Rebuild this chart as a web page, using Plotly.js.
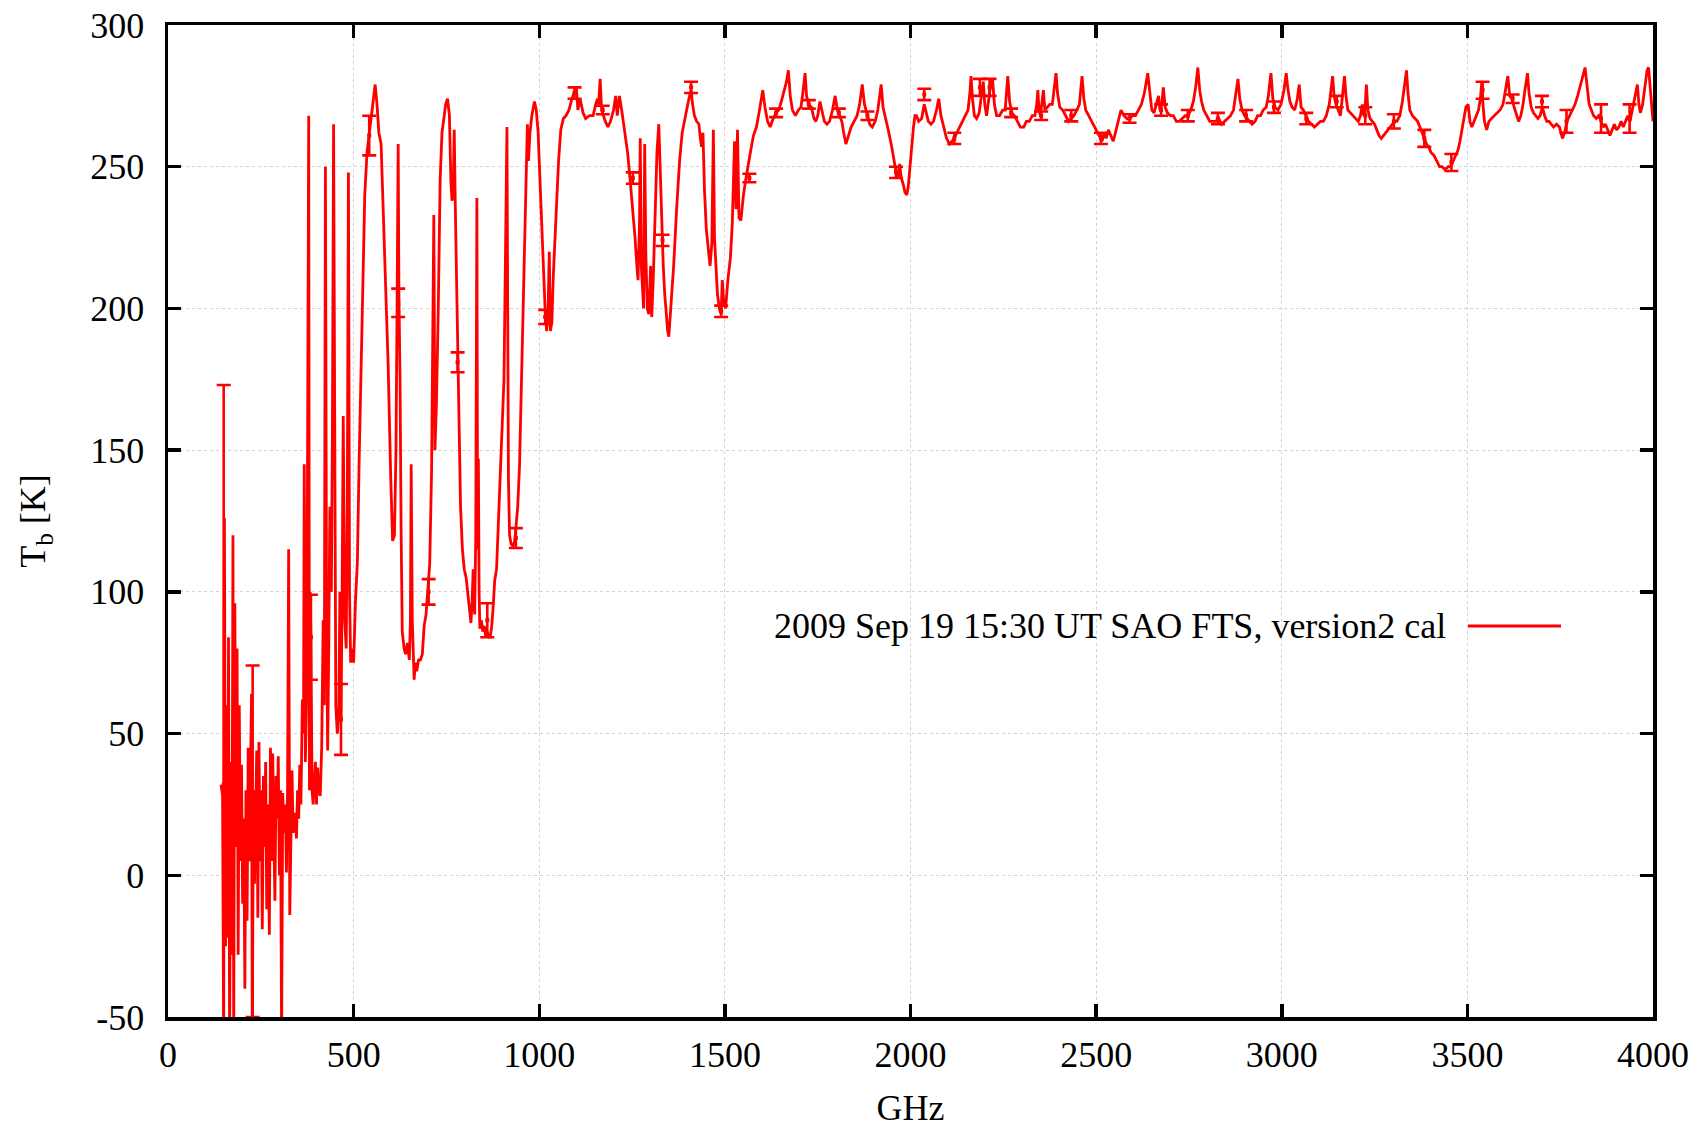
<!DOCTYPE html>
<html>
<head>
<meta charset="utf-8">
<script src="https://cdn.plot.ly/plotly-3.0.1.min.js"></script>
<style>html,body{margin:0;padding:0;background:#fff;}#chart{width:1703px;height:1128px;}</style>
</head>
<body>
<div id="chart"></div>
<script>
// ---- Data (GHz, K) ----
const freqGHz = [
143,147,150,152,155,158,161,163,166,169,172,175,177,180,183,186,189,192,195,198,201,204,207,210,213,216,219,222,225,227,230,233,236,239,242,245,248,251,254,257,260,263,266,269,273,276,279,282,285,288,291,294,297,300,303,306,309,312,316,319,322,325,328,331,334,337,340,343,346,349,352,355,358,362,365,367,370,373,376,379,381,383,385,388,391,394,397,400,403,406,410,414,418,421,424,427,430,433,436,440,443,446,449,452,456,460,463,466,469,472,476,480,483,486,489,492,496,500,505,510,515,522,530,536,542,547,552,558,563,568,574,580,587,593,600,605,610,614,617,620,622,625,628,631,636,640,645,650,653,655,658,661,663,666,670,675,680,685,690,695,700,705,710,713,716,719,723,728,733,738,743,748,753,758,762,765,768,771,774,777,780,784,788,793,798,803,808,812,816,819,822,826,829,832,834,836,838,840,844,848,852,856,860,864,868,872,876,880,885,890,895,900,905,910,913,915,917,920,924,929,934,938,942,947,952,958,964,968,971,975,980,987,992,997,1002,1008,1012,1016,1020,1024,1027,1030,1034,1038,1045,1052,1058,1065,1072,1080,1088,1095,1100,1104,1110,1118,1125,1135,1145,1152,1157,1160,1164,1168,1172,1178,1185,1192,1200,1206,1210,1216,1222,1230,1238,1245,1252,1258,1263,1266,1270,1272,1275,1278,1281,1284,1287,1291,1295,1300,1303,1307,1312,1317,1322,1326,1330,1334,1338,1342,1346,1349,1352,1356,1362,1370,1378,1385,1393,1400,1405,1409,1413,1418,1424,1430,1434,1437,1441,1445,1450,1455,1460,1465,1469,1472,1476,1480,1485,1490,1493,1497,1502,1508,1515,1520,1526,1530,1534,1538,1543,1550,1557,1563,1570,1577,1585,1592,1597,1602,1608,1615,1622,1630,1638,1645,1652,1660,1666,1671,1676,1682,1690,1698,1705,1710,1716,1720,1726,1733,1740,1745,1750,1756,1762,1768,1775,1782,1790,1797,1803,1810,1815,1820,1826,1833,1840,1848,1856,1863,1870,1876,1884,1890,1897,1905,1912,1918,1921,1926,1932,1940,1948,1954,1960,1966,1971,1975,1980,1985,1990,1994,1998,2003,2008,2012,2016,2022,2030,2037,2042,2048,2055,2062,2070,2076,2082,2090,2097,2105,2112,2118,2125,2133,2140,2148,2155,2160,2163,2167,2172,2178,2185,2190,2196,2200,2205,2210,2215,2221,2226,2232,2240,2248,2255,2262,2267,2273,2280,2288,2296,2305,2312,2320,2328,2335,2340,2343,2346,2350,2355,2358,2362,2368,2375,2382,2388,2392,2396,2402,2410,2418,2426,2433,2440,2448,2455,2462,2467,2472,2480,2488,2496,2503,2510,2516,2522,2527,2533,2540,2546,2552,2560,2567,2575,2583,2590,2598,2606,2614,2622,2630,2635,2639,2644,2650,2656,2662,2668,2672,2677,2681,2686,2692,2700,2708,2716,2724,2732,2740,2748,2755,2762,2768,2774,2779,2784,2790,2798,2806,2814,2822,2830,2838,2846,2854,2862,2870,2876,2882,2887,2893,2900,2906,2912,2920,2928,2935,2943,2950,2958,2964,2968,2971,2976,2982,2990,2998,3006,3012,3016,3022,3028,3035,3042,3047,3052,3058,3065,3072,3080,3088,3096,3104,3112,3120,3128,3133,3137,3141,3146,3152,3158,3162,3166,3169,3173,3178,3185,3192,3200,3206,3212,3217,3221,3225,3228,3232,3238,3244,3250,3256,3262,3268,3274,3280,3286,3292,3298,3304,3310,3318,3325,3330,3336,3340,3345,3352,3360,3366,3372,3378,3384,3390,3396,3402,3410,3418,3425,3432,3440,3448,3455,3462,3468,3475,3480,3486,3492,3496,3502,3507,3512,3518,3524,3530,3535,3539,3542,3546,3552,3558,3565,3572,3580,3588,3596,3602,3606,3609,3614,3620,3626,3632,3638,3644,3650,3655,3659,3662,3666,3672,3678,3684,3690,3696,3702,3708,3714,3720,3726,3732,3740,3748,3756,3762,3768,3775,3782,3790,3797,3803,3810,3817,3822,3828,3834,3840,3847,3854,3860,3866,3872,3878,3884,3890,3896,3902,3908,3914,3920,3926,3932,3938,3944,3950,3954,3958,3962,3966,3972,3978,3984,3988,3992,3996,4000
];
const tbK = [
32,28,-60,126,-25,60,-22,84,-60,40,-28,120,-60,96,10,80,-28,60,5,39,-10,20,-40,30,-16,45,5,38,64,-60,30,-3,25,44,-15,47,5,30,-19,35,10,40,-12,25,-21,45,5,43,15,-9,35,20,42,0,30,-60,29,15,25,1,30,115,-14,20,37,15,19,22,13,30,20,39,25,62,50,145,40,60,150,268,30,100,84,30,25,35,40,25,38,30,28,45,90,60,250,100,44,80,130,100,160,265,120,60,50,56,100,55,100,162,90,80,130,248,100,75,80,75,97,110,147,190,240,255,262,268,272,279,272,262,258,235,210,180,140,118,120,150,200,258,205,175,120,86,80,78,82,76,90,145,90,72,69,75,72,76,76,78,88,92,101,110,143,180,233,150,166,200,245,262,267,272,274,268,245,238,240,263,235,210,182,160,130,115,108,105,100,94,89,96,108,92,120,239,115,147,100,87,90,86,88,84,86,84,84,88,95,104,108,125,144,158,175,230,264,200,140,120,117,116,118,124,130,145,175,202,235,265,252,262,268,273,270,262,245,225,213,199,192,200,220,192,195,212,232,252,263,267,268,270,274,276,278,270,274,269,267,268,268,272,274,272,281,270,268,266,264,266,270,275,268,275,270,263,255,245,235,225,215,210,230,260,215,205,200,258,220,200,198,215,197,210,235,255,265,245,228,215,205,198,192,190,195,204,215,235,252,262,268,272,275,277,272,268,266,265,260,257,262,242,228,220,215,223,263,225,213,205,200,198,210,202,200,210,218,230,259,235,263,232,231,240,246,250,256,261,264,269,274,277,271,266,264,267,269,270,273,277,280,284,275,270,268,270,271,276,283,275,272,271,267,266,268,273,269,266,265,266,270,275,270,268,266,262,258,261,264,266,268,272,279,272,268,265,264,266,270,276,279,271,267,263,258,253,249,246,251,246,244,241,240,243,250,258,264,268,268,266,267,272,269,266,265,266,270,274,268,264,260,258,259,260,262,264,266,268,270,276,282,274,268,267,269,274,280,272,268,273,278,281,272,268,268,270,270,282,273,269,268,266,264,264,266,266,268,268,272,277,270,268,274,277,270,271,272,272,278,283,276,271,270,268,266,267,268,270,272,282,274,270,268,266,264,262,260,259,262,260,263,261,259,262,266,270,268,267,267,268,268,270,272,276,280,283,277,270,269,272,275,270,272,278,271,269,268,268,266,266,267,268,268,270,273,278,285,277,273,270,268,266,266,266,267,265,266,267,268,270,276,281,274,270,268,267,266,265,266,268,268,270,271,275,280,283,274,271,270,272,277,283,278,273,271,270,274,279,271,270,268,266,265,264,265,266,266,268,272,277,282,275,272,270,268,273,279,282,275,270,269,268,267,266,268,272,268,272,279,270,267,266,265,263,261,260,261,262,263,264,265,266,266,268,273,279,284,276,270,268,267,266,264,262,260,258,257,255,254,252,250,250,249,250,250,252,254,256,259,263,268,271,272,266,264,266,268,270,274,280,272,266,263,266,267,268,269,270,272,276,280,282,275,274,271,268,266,268,272,277,281,283,276,271,269,268,267,268,271,268,266,266,265,264,265,264,260,262,266,268,270,272,275,278,282,285,279,272,270,268,267,268,266,264,265,263,261,263,265,263,264,266,264,266,268,266,270,273,276,279,272,269,272,279,284,285,278,270,266
];
// error-bar samples
const errFreqGHz = [150,228,385,466,542,620,702,780,860,937,1016,1095,1171,1252,1332,1409,1490,1566,1638,1726,1807,1884,1961,2037,2118,2187,2213,2271,2352,2433,2513,2590,2675,2747,2828,2904,2979,3066,3148,3225,3302,3384,3457,3541,3622,3701,3767,3860,3937];
const errTbK = [32,12,84,55,261,202,100,181,90,119,197,276,270,246,224,278,199,246,269,272,269,268,248,275.5,260,278,278,269,268,268,260,267,270,268,267,268,271,267,273,268,266,260,251.5,277,274,273,266,267,267];
const errSizeK = [141,62,15,12.5,7,5,4.5,3.5,6,3.5,2.5,2,1.5,2,2,2,2,1.5,1.5,1.5,1.5,1.5,2,2,2,3,3,1.5,1.5,2,2,1.5,2,2,2,2,2,2,2,3,2.5,3,3,3,1.5,2,4,5,5];

const xTicks = [0,500,1000,1500,2000,2500,3000,3500,4000];
const yTicks = [-50,0,50,100,150,200,250,300];
const legendLabel = '2009 Sep 19 15:30 UT SAO FTS, version2 cal';

const RED = '#ff0000';
const FONT = 'Liberation Serif, Times New Roman, serif';

const traces = [
  {
    x: freqGHz, y: tbK, type: 'scatter', mode: 'lines',
    line: {color: RED, width: 2.8}, name: legendLabel, showlegend: false,
    hoverinfo: 'skip'
  },
  {
    x: errFreqGHz, y: errTbK, type: 'scatter', mode: 'markers',
    marker: {color: RED, size: 4, symbol: 'square'},
    error_y: {type: 'data', array: errSizeK, visible: true, color: RED, thickness: 2.6, width: 7},
    showlegend: false, hoverinfo: 'skip'
  }
];

// plot area in pixels: left 168, right 1653, top 25, bottom 1017
const L = 168, R = 1653, T = 25, B = 1017;
const W = R - L, H = B - T;
const legY = 626;
const px = v => (v - L) / W;
const py = v => (B - v) / H;

const axisCommon = {
  showline: true, linecolor: '#000', linewidth: 3.5, mirror: 'ticks',
  ticks: 'inside', ticklen: 13, tickwidth: 3.5, tickcolor: '#000',
  showgrid: true, gridcolor: '#d2d2d2', griddash: 'dot', gridwidth: 1,
  zeroline: false, tickfont: {family: FONT, size: 36, color: '#000'},
  automargin: false
};

const layout = {
  width: 1703, height: 1128,
  margin: {l: L, r: 1703 - R, t: T, b: 1128 - B},
  paper_bgcolor: '#fff', plot_bgcolor: '#fff',
  font: {family: FONT, size: 36, color: '#000'},
  showlegend: false,
  xaxis: Object.assign({}, axisCommon, {
    range: [0, 4000], tickmode: 'array', tickvals: xTicks, ticktext: xTicks.map(String),
    ticklabelstandoff: 3,
    title: {text: 'GHz', font: {family: FONT, size: 36, color: '#000'}, standoff: 36}
  }),
  yaxis: Object.assign({}, axisCommon, {
    range: [-50, 300], tickmode: 'array', tickvals: yTicks, ticktext: yTicks.map(String),
    ticklabelstandoff: 13,
    title: {text: 'T<sub>b</sub> [K]', font: {family: FONT, size: 36, color: '#000'}, standoff: 34}
  }),
  shapes: [
    {type: 'rect', xref: 'paper', yref: 'paper', layer: 'between',
     x0: px(712), x1: px(1580), y0: py(652), y1: py(598),
     fillcolor: '#fff', line: {width: 0}},
    {type: 'line', xref: 'paper', yref: 'paper', layer: 'above',
     x0: px(1468), x1: px(1561), y0: py(legY), y1: py(legY),
     line: {color: RED, width: 2.8}}
  ],
  annotations: [
    {xref: 'paper', yref: 'paper', x: px(1448), y: py(legY), xanchor: 'right', yanchor: 'middle',
     text: legendLabel, showarrow: false, font: {family: FONT, size: 36, color: '#000'}}
  ]
};

Plotly.newPlot('chart', traces, layout, {displayModeBar: false, staticPlot: true});
</script>
</body>
</html>
